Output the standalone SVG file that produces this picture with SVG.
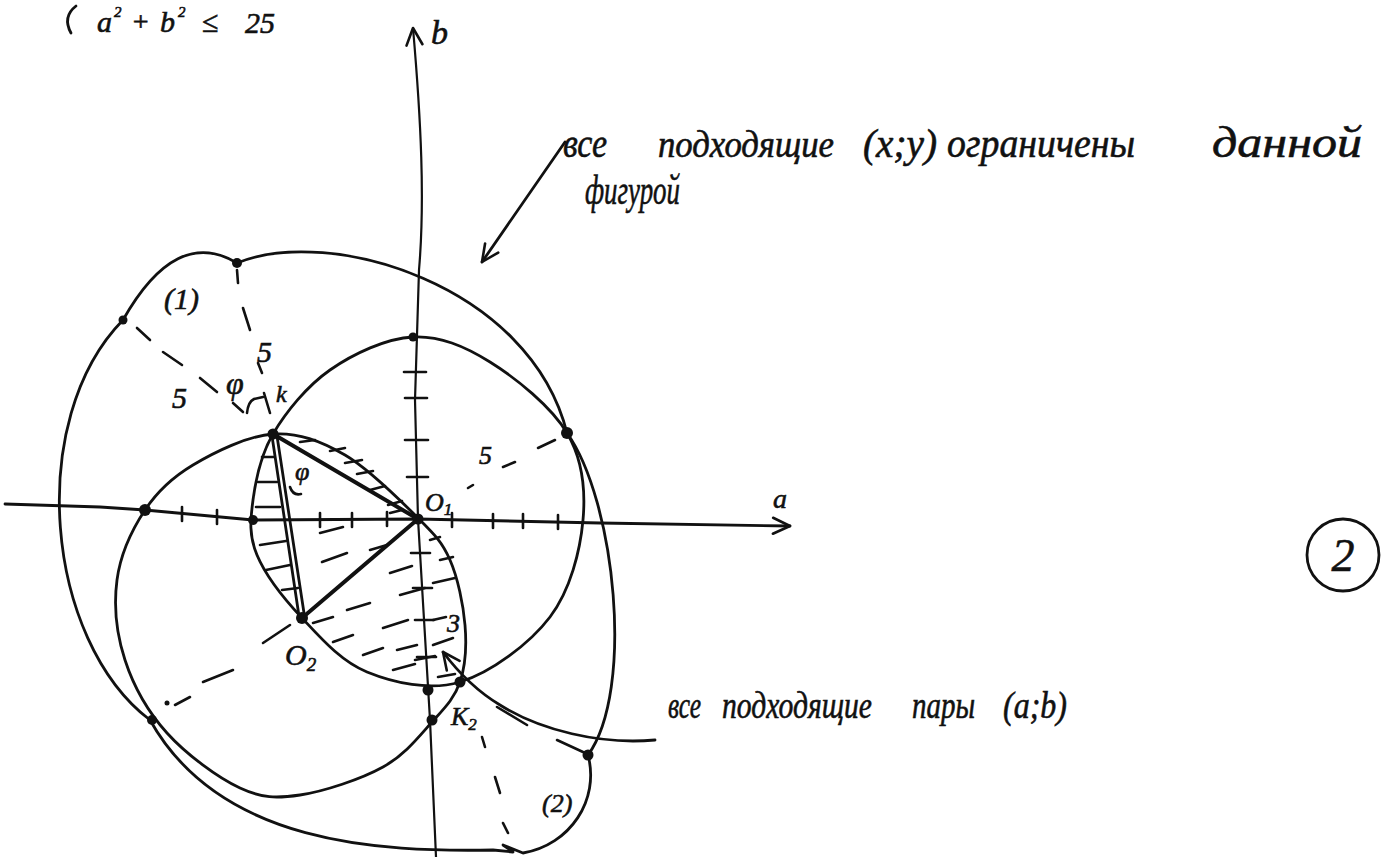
<svg xmlns="http://www.w3.org/2000/svg" width="1385" height="857" viewBox="0 0 1385 857">
<defs>
<style>
.ln{fill:none;stroke:#111;stroke-width:2.8;stroke-linecap:round;stroke-linejoin:round}
.thick{stroke-width:4}
.thin{stroke-width:2.2}
.h{stroke:#111;stroke-width:2.6;stroke-linecap:round;fill:none}
.dot{fill:#111}
.hw{font-family:"Liberation Serif","DejaVu Serif",serif;font-style:italic;fill:#111;stroke:#111;stroke-width:0.6}
.mt{font-family:"Liberation Serif","DejaVu Serif",serif;font-style:italic;fill:#111;stroke:#111;stroke-width:0.6}
</style>
<marker id="arr" markerUnits="userSpaceOnUse" markerWidth="22" markerHeight="22" viewBox="0 0 22 22" refX="20" refY="11" orient="auto">
<path d="M3,3 L20,11 L3,19" fill="none" stroke="#111" stroke-width="2.6" stroke-linecap="round" stroke-linejoin="round"/>
</marker>
</defs>
<rect width="1385" height="857" fill="#fff"/>

<g id="equation">
<path class="ln" d="M76,6 C67,13 65,22 71,33"/>
<text class="mt" x="97" y="32" font-size="30">a</text>
<text class="mt" x="114" y="17" font-size="15">2</text>
<text class="mt" x="131" y="31" font-size="28">+</text>
<text class="mt" x="160" y="32" font-size="30">b</text>
<text class="mt" x="178" y="17" font-size="15">2</text>
<text class="mt" x="202" y="32" font-size="30">≤</text>
<text class="mt" x="245" y="33" font-size="30">25</text>
</g>

<g id="axes">
<path class="ln" d="M5,504 L100,507 L145,510 L253,520 L418,519 L600,523 L790,526" marker-end="url(#arr)"/>
<path class="ln thin" d="M436,857 L430,720 L418,519 L415,400 L419,270 C425,200 421,120 413,28" marker-end="url(#arr)"/>
<g class="h">
<line x1="182" y1="507" x2="182" y2="521"/>
<line x1="217" y1="510" x2="217" y2="524"/>
<line x1="320" y1="513" x2="320" y2="527"/>
<line x1="352" y1="513" x2="352" y2="527"/>
<line x1="387" y1="512" x2="387" y2="526"/>
<line x1="452" y1="513" x2="452" y2="527"/>
<line x1="493" y1="514" x2="493" y2="528"/>
<line x1="523" y1="514" x2="523" y2="528"/>
<line x1="558" y1="515" x2="558" y2="529"/>
<line x1="404" y1="372" x2="426" y2="372"/>
<line x1="405" y1="398" x2="427" y2="398"/>
<line x1="405" y1="440" x2="428" y2="440"/>
<line x1="407" y1="477" x2="428" y2="477"/>
<line x1="411" y1="553" x2="430" y2="553"/>
<line x1="413" y1="588" x2="432" y2="588"/>
<line x1="415" y1="620" x2="434" y2="620"/>
<line x1="417" y1="657" x2="436" y2="657"/>
</g>
<text class="mt" x="773" y="508" font-size="28">a</text>
<text class="mt" x="431" y="44" font-size="34">b</text>
</g>

<g id="outer-figure">
<path class="ln" d="M123,320 Q176,226 237,263 C330,225 530,285 567,433 C615,500 635,690 588,755 C600,800 570,845 523,853 L503,845 L513,852 L493,850 C380,852 220,845 150,720 C45,640 25,420 123,320 Z"/>
</g>

<g id="circle-1">
<path class="ln" d="M413,337 C439.7,335.7 464.3,346 490,362 C515.7,378 551.5,406.7 567,433 C582.5,459.3 585.8,489.3 583,520 C580.2,550.7 570.5,590 550,617 C529.5,644 490.5,672.8 460,682 C429.5,691.2 393.3,682.7 367,672 C340.7,661.3 320.3,637.5 302,618 C283.7,598.5 265.2,574.7 257,555 C248.8,535.3 250.3,520.2 253,500 C255.7,479.8 260.2,455.7 273,434 C285.8,412.3 306.7,386.2 330,370 C353.3,353.8 386.3,338.3 413,337 Z"/>
</g>

<g id="circle-2">
<path class="ln" d="M273,434 C247.7,435.7 214.3,452.3 193,465 C171.7,477.7 157.7,490.8 145,510 C132.3,529.2 120.3,555 117,580 C113.7,605 116.7,634.5 125,660 C133.3,685.5 147.8,711.7 167,733 C186.2,754.3 217.8,777.7 240,788 C262.2,798.3 276.2,798.5 300,795 C323.8,791.5 361,779.2 383,767 C405,754.8 419.2,736.2 432,722 C444.8,707.8 454.5,698.2 460,682 C465.5,665.8 466.7,645.3 465,625 C463.3,604.7 457.8,577.8 450,560 C442.2,542.2 435.5,535.5 418,518 C400.5,500.5 369.2,469 345,455 C320.8,441 298.3,432.3 273,434 Z"/>
</g>

<g id="triangle">
<line class="ln thick" x1="273" y1="434" x2="418" y2="519"/>
<line class="ln" x1="272" y1="436" x2="299" y2="616"/>
<line class="ln" x1="277" y1="436" x2="304" y2="613"/>
<line class="ln thick" x1="302" y1="618" x2="418" y2="519"/>
</g>

<g id="hatching" class="h">
<line x1="300" y1="442" x2="315" y2="440"/>
<line x1="330" y1="451" x2="345" y2="448"/>
<line x1="345" y1="463" x2="362" y2="460"/>
<line x1="357" y1="474" x2="373" y2="471"/>
<line x1="370" y1="490" x2="385" y2="486"/>
<line x1="388" y1="505" x2="402" y2="501"/>
<line x1="262" y1="457" x2="274" y2="457"/>
<line x1="258" y1="482" x2="277" y2="482"/>
<line x1="256" y1="507" x2="280" y2="507"/>
<line x1="260" y1="545" x2="286" y2="541"/>
<line x1="266" y1="570" x2="290" y2="565"/>
<line x1="282" y1="590" x2="298" y2="588"/>
<line x1="320" y1="533" x2="343" y2="527"/>
<line x1="370" y1="550" x2="387" y2="545"/>
<line x1="322" y1="562" x2="347" y2="553"/>
<line x1="390" y1="573" x2="412" y2="566"/>
<line x1="400" y1="595" x2="425" y2="588"/>
<line x1="347" y1="610" x2="370" y2="603"/>
<line x1="383" y1="628" x2="408" y2="620"/>
<line x1="313" y1="623" x2="333" y2="617"/>
<line x1="333" y1="642" x2="353" y2="635"/>
<line x1="363" y1="655" x2="383" y2="648"/>
<line x1="397" y1="650" x2="417" y2="645"/>
<line x1="393" y1="670" x2="415" y2="664"/>
<line x1="433" y1="583" x2="455" y2="578"/>
<line x1="440" y1="560" x2="453" y2="557"/>
<line x1="433" y1="620" x2="446" y2="617"/>
<line x1="433" y1="645" x2="453" y2="638"/>
<line x1="415" y1="660" x2="435" y2="656"/>
<line x1="438" y1="677" x2="455" y2="674"/>
<line x1="390" y1="513" x2="402" y2="510"/>
<line x1="430" y1="540" x2="440" y2="537"/>
</g>

<g id="construction-dashes" class="h">
<line x1="137" y1="328" x2="150" y2="340"/>
<line x1="163" y1="352" x2="182" y2="365"/>
<line x1="200" y1="378" x2="217" y2="392"/>
<line x1="233" y1="403" x2="243" y2="412"/>
<line x1="237" y1="270" x2="238" y2="283"/>
<line x1="243" y1="308" x2="250" y2="330"/>
<line x1="258" y1="363" x2="262" y2="373"/>
<line x1="264" y1="393" x2="270" y2="413"/>
<path d="M247,413 Q248,402 254,399 L263,397"/>
<path d="M290,487 Q293,496 301,494"/>
<line x1="263" y1="643" x2="290" y2="625"/>
<line x1="203" y1="682" x2="233" y2="670"/>
<line x1="175" y1="705" x2="190" y2="697"/>
<line x1="468" y1="488" x2="473" y2="485"/>
<line x1="503" y1="467" x2="515" y2="462"/>
<line x1="538" y1="448" x2="555" y2="440"/>
<line x1="497" y1="707" x2="527" y2="725"/>
<line x1="557" y1="740" x2="583" y2="752"/>
<line x1="482" y1="737" x2="485" y2="747"/>
<line x1="495" y1="777" x2="500" y2="793"/>
<line x1="503" y1="823" x2="508" y2="833"/>
</g>

<g id="points" class="dot">
<circle cx="418" cy="519" r="5.5"/>
<circle cx="273" cy="434" r="5.5"/>
<circle cx="302" cy="618" r="6"/>
<circle cx="460" cy="682" r="5.5"/>
<circle cx="428" cy="690" r="5.5"/>
<circle cx="432" cy="720" r="5.5"/>
<circle cx="145" cy="510" r="6"/>
<circle cx="253" cy="520" r="5"/>
<circle cx="413" cy="337" r="4.5"/>
<circle cx="567" cy="433" r="6"/>
<circle cx="123" cy="320" r="4.5"/>
<circle cx="237" cy="263" r="5"/>
<circle cx="588" cy="755" r="5.5"/>
<circle cx="152" cy="720" r="5"/>
<circle cx="167" cy="703" r="2.5"/>
</g>

<g id="connectors">
<path class="ln" d="M565,142 L482,262" marker-end="url(#arr)"/>
<path class="ln" d="M655,740 C600,745 540,730 500,705 C475,690 455,668 443,652" marker-end="url(#arr)"/>
</g>

<g id="labels">
<text class="mt" x="164" y="309" font-size="30">(1)</text>
<text class="mt" x="542" y="812" font-size="26">(2)</text>
<text class="mt" x="172" y="408" font-size="30">5</text>
<text class="mt" x="226" y="394" font-size="32">φ</text>
<text class="mt" x="257" y="362" font-size="30">5</text>
<text class="mt" x="276" y="402" font-size="24">k</text>
<text class="mt" x="295" y="480" font-size="26">φ</text>
<text class="mt" x="425" y="511" font-size="26">O<tspan font-size="17" dy="4">1</tspan></text>
<text class="mt" x="479" y="464" font-size="26">5</text>
<text class="mt" x="285" y="665" font-size="30">O<tspan font-size="19" dy="6">2</tspan></text>
<text class="mt" x="447" y="632" font-size="26">3</text>
<text class="mt" x="451" y="725" font-size="26">K<tspan font-size="17" dy="5">2</tspan></text>
</g>

<g id="note-top">
<text class="hw" font-size="42" x="563" y="157" textLength="44" lengthAdjust="spacingAndGlyphs">все</text>
<text class="hw" font-size="38" x="658" y="157" textLength="176" lengthAdjust="spacingAndGlyphs">подходящие</text>
<text class="hw" font-size="40" x="863" y="157" textLength="74" lengthAdjust="spacingAndGlyphs">(x;y)</text>
<text class="hw" font-size="42" x="947" y="157" textLength="188" lengthAdjust="spacingAndGlyphs">ограничены</text>
<text class="hw" font-size="44" x="1212" y="157" textLength="150" lengthAdjust="spacingAndGlyphs">данной</text>
<text class="hw" font-size="42" x="585" y="204" textLength="95" lengthAdjust="spacingAndGlyphs">фигурой</text>
</g>

<g id="note-bottom">
<text class="hw" font-size="38" x="668" y="718" textLength="33" lengthAdjust="spacingAndGlyphs">все</text>
<text class="hw" font-size="38" x="722" y="718" textLength="150" lengthAdjust="spacingAndGlyphs">подходящие</text>
<text class="hw" font-size="38" x="912" y="718" textLength="63" lengthAdjust="spacingAndGlyphs">пары</text>
<text class="hw" font-size="38" x="1003" y="718" textLength="64" lengthAdjust="spacingAndGlyphs">(a;b)</text>
</g>

<g id="mark-2">
<circle cx="1343" cy="555" r="36" fill="none" stroke="#111" stroke-width="2.8"/>
<text class="mt" x="1343" y="571" font-size="46" text-anchor="middle">2</text>
</g>
</svg>
